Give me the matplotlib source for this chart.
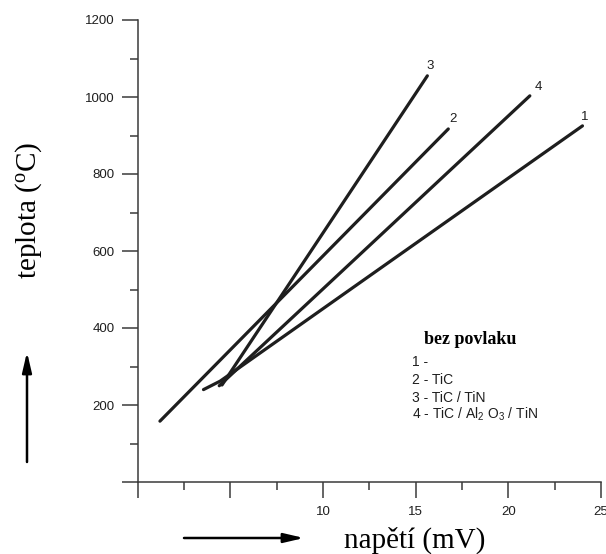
import matplotlib
matplotlib.use("Agg")
import matplotlib.pyplot as plt
from matplotlib.ticker import MultipleLocator, FixedLocator, FixedFormatter

# Thermocouple calibration: temperature vs. voltage for four tool coatings
line1_x = [3.55, 4.45, 24.0]
line1_y = [240, 262, 925]
line2_x = [1.2, 16.76]
line2_y = [158, 917]
line3_x = [4.55, 15.63]
line3_y = [252, 1055]
line4_x = [4.4, 21.16]
line4_y = [250, 1003]

series_x = [line1_x, line2_x, line3_x, line4_x]
series_y = [line1_y, line2_y, line3_y, line4_y]
end_labels = ["1", "2", "3", "4"]
end_label_pos = [(24.1, 948), (17.03, 943), (15.79, 1081), (21.6, 1026)]

legend_title = "bez povlaku"
legend_items = [
    "1 -",
    "2 - TiC",
    "3 - TiC / TiN",
    r"4 - TiC / Al$\mathregular{_2}$ O$\mathregular{_3}$ / TiN",
]

x_major = [0, 5, 10, 15, 20, 25]
x_labels = ["", "", "10", "15", "20", "25"]
y_major = [0, 200, 400, 600, 800, 1000, 1200]
y_labels = ["", "200", "400", "600", "800", "1000", "1200"]

W, H = 606, 554
fig = plt.figure(figsize=(W / 100, H / 100), dpi=100)

ax_left, ax_right = 137.7, 601.0
ax_top, ax_bottom = 20.0, 482.0
ax = fig.add_axes([ax_left / W, 1 - ax_bottom / H,
                   (ax_right - ax_left) / W, (ax_bottom - ax_top) / H])
ax.set_xlim(0, 25)
ax.set_ylim(0, 1200)

ink = "#1e1e1e"
axis_col = "#3a3a3a"

for xs, ys in zip(series_x, series_y):
    ax.plot(xs, ys, color=ink, lw=2.3, solid_capstyle="round",
            solid_joinstyle="round")

tick_font = dict(family="Liberation Sans", size=9.5)
for lab, (lx, ly) in zip(end_labels, end_label_pos):
    ax.text(lx, ly, lab, ha="center", va="center", color=ink, **tick_font)

# axes frame
for s in ("top", "right"):
    ax.spines[s].set_visible(False)
for s in ("left", "bottom"):
    ax.spines[s].set_color(axis_col)
    ax.spines[s].set_linewidth(1.1)

ax.xaxis.set_major_locator(FixedLocator(x_major))
ax.xaxis.set_major_formatter(FixedFormatter(x_labels))
ax.xaxis.set_minor_locator(MultipleLocator(2.5))
ax.yaxis.set_major_locator(FixedLocator(y_major))
ax.yaxis.set_major_formatter(FixedFormatter(y_labels))
ax.yaxis.set_minor_locator(MultipleLocator(100))

ax.tick_params(axis="x", which="major", direction="out", length=11.5,
               width=1.1, color=axis_col, pad=6, labelcolor=ink)
ax.tick_params(axis="x", which="minor", direction="out", length=6,
               width=1.1, color=axis_col)
ax.tick_params(axis="y", which="major", direction="out", length=11.5,
               width=1.1, color=axis_col, pad=5, labelcolor=ink)
ax.tick_params(axis="y", which="minor", direction="out", length=6,
               width=1.1, color=axis_col)
for lab in ax.get_xticklabels() + ax.get_yticklabels():
    lab.set_family("Liberation Sans")
    lab.set_fontsize(9.5)

# legend block
ax.text(17.93, 371, legend_title, ha="center", va="center",
        family="Liberation Serif", weight="bold", size=13, color="black")
item_y = [301, 255, 208, 164]
for txt, iy in zip(legend_items, item_y):
    ax.text(14.8, iy, txt, ha="left", va="baseline", color=ink,
            family="Liberation Sans", size=10)

# axis titles
fig.text(415 / W, 1 - 548 / H, "napětí (mV)", ha="center", va="baseline",
         family="Liberation Serif", size=21, color="black")
fig.text(29 / W, 1 - 210 / H, r"teplota ($\mathregular{^o}$C)", ha="center",
         va="center", rotation=90, family="Liberation Serif", size=21,
         color="black")

# direction arrows
arrow_style = dict(arrowstyle="-|>,head_length=1.2,head_width=0.28",
                   lw=1.8, color="black", shrinkA=0, shrinkB=0)
fig.add_artist(matplotlib.patches.FancyArrowPatch(
    (184 / W, 1 - 538 / H), (304 / W, 1 - 538 / H),
    transform=fig.transFigure, mutation_scale=10, **arrow_style))
fig.add_artist(matplotlib.patches.FancyArrowPatch(
    (27 / W, 1 - 462 / H), (27 / W, 1 - 352 / H),
    transform=fig.transFigure, mutation_scale=10, **arrow_style))

fig.savefig("out.png", dpi=100, facecolor="white")
